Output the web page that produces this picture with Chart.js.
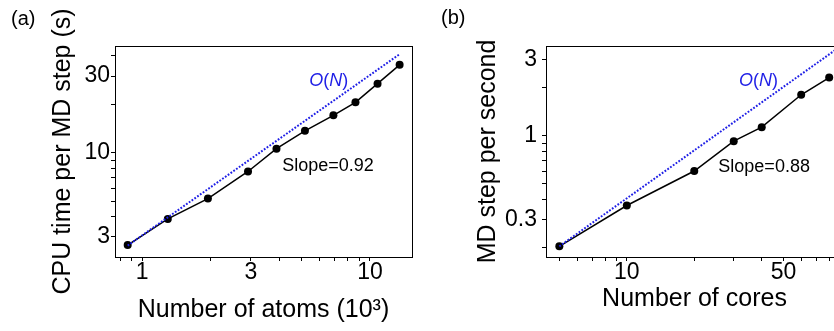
<!DOCTYPE html>
<html>
<head>
<meta charset="utf-8">
<script src="https://cdn.jsdelivr.net/npm/chart.js@4.4.1/dist/chart.umd.min.js"></script>
<style>
  html, body { margin: 0; padding: 0; background: #fff; overflow: hidden; width: 834px; height: 331px; }
  .panel { position: absolute; top: 0; height: 331px; }
  .tag { position: absolute; font: 20px "Liberation Sans", Arial, sans-serif; color: #000; }
</style>
</head>
<body>
<div class="panel" style="left:0;width:417px"><canvas id="chartA" width="417" height="331"></canvas></div>
<div class="panel" style="left:417px;width:430px"><canvas id="chartB" width="430" height="331"></canvas></div>
<div class="tag" style="left:11px;top:7px">(a)</div>
<div class="tag" style="left:441px;top:6px">(b)</div>
<script>
// (a) CPU time vs system size
const atoms = [0.864, 1.296, 1.944, 2.916, 3.888, 5.184, 6.912, 8.64, 10.8, 13.5]; // 10^3 atoms
const cpuTime = [2.67, 3.88, 5.19, 7.65, 10.6, 13.7, 17.1, 20.6, 26.9, 35.2];     // s per MD step
const idealAtomsX = [0.864, 13.5];
const idealAtomsY = [2.65, 41.0];

// (b) throughput vs number of cores
const cores = [5, 10, 20, 30, 40, 60, 80];
const stepsPerSec = [0.203, 0.366, 0.602, 0.926, 1.134, 1.81, 2.32];
const idealCoresX = [5, 92];
const idealCoresY = [0.203, 3.73];

// tick marks and the few that carry a label
const ticksAtomsX = [0.8, 0.9, 1, 2, 3, 4, 5, 6, 7, 8, 9, 10];
const labelsAtomsX = [1, 3, 10];
const ticksTimeY = [3, 4, 5, 6, 7, 8, 9, 10, 20, 30, 40];
const labelsTimeY = [3, 10, 30];
const ticksCoresX = [5, 6, 7, 8, 9, 10, 20, 30, 40, 50, 60, 70, 80];
const labelsCoresX = [10, 50];
const ticksStepsY = [0.2, 0.3, 0.4, 0.5, 0.6, 0.7, 0.8, 0.9, 1, 2, 3];
const labelsStepsY = [0.3, 1, 3];

const FONT = '"Liberation Sans", Arial, sans-serif';
const BLUE = '#1f1fe6';

const toXY = (xs, ys) => xs.map((x, i) => ({ x: x, y: ys[i] }));

// box around the plot area (top and right sides)
const frame = {
  id: 'frame',
  afterDraw(chart) {
    const { ctx, chartArea: a } = chart;
    ctx.save();
    ctx.strokeStyle = '#000';
    ctx.lineWidth = 1;
    ctx.strokeRect(a.left + 0.5, a.top + 0.5, a.right - a.left, a.bottom - a.top);
    ctx.restore();
  }
};

// text notes placed at data coordinates
const notes = {
  id: 'notes',
  afterDatasetsDraw(chart, args, opts) {
    const ctx = chart.ctx;
    const sx = chart.scales.x, sy = chart.scales.y;
    ctx.save();
    ctx.textBaseline = 'middle';
    opts.items.forEach(n => {
      const px = sx.getPixelForValue(n.x);
      const py = sy.getPixelForValue(n.y);
      // measure total width first, then draw parts left to right
      let w = 0;
      n.parts.forEach(p => { ctx.font = (p.italic ? 'italic ' : '') + n.size + 'px ' + FONT; w += ctx.measureText(p.t).width; });
      let cx = px - w / 2;
      ctx.textAlign = 'left';
      ctx.fillStyle = n.color;
      n.parts.forEach(p => {
        ctx.font = (p.italic ? 'italic ' : '') + n.size + 'px ' + FONT;
        ctx.fillText(p.t, cx, py);
        cx += ctx.measureText(p.t).width;
      });
    });
    ctx.restore();
  }
};

function axis(min, max, ticks, labels, tickPad, size, title, titlePad, isY) {
  return {
    type: 'logarithmic',
    min: min,
    max: max,
    afterBuildTicks: s => { s.ticks = ticks.map(v => ({ value: v })); },
    afterFit: s => { if (isY) s.width = size; else s.height = size; },
    grid: { display: true, drawOnChartArea: false, drawTicks: true, tickLength: 4, color: '#000', lineWidth: 1 },
    border: { display: true, color: '#000', width: 1 },
    ticks: {
      autoSkip: false,
      maxRotation: 0,
      padding: tickPad,
      color: '#000',
      font: { family: FONT, size: 23, lineHeight: 1 },
      callback: v => labels.includes(v) ? String(v) : ''
    },
    title: {
      display: true,
      text: title,
      color: '#000',
      font: { family: FONT, size: 25, lineHeight: 1.2 },
      padding: titlePad
    }
  };
}

function makeChart(id, pts, ideal, xAxis, yAxis, layoutPad, noteItems) {
  return new Chart(document.getElementById(id), {
    type: 'line',
    data: {
      datasets: [
        {
          data: ideal,
          borderColor: BLUE,
          borderWidth: 2,
          borderDash: [1.8, 1.6],
          pointRadius: 0,
          fill: false
        },
        {
          data: pts,
          borderColor: '#000',
          borderWidth: 1.5,
          pointRadius: 4,
          pointBackgroundColor: '#000',
          pointBorderWidth: 0,
          fill: false
        }
      ]
    },
    options: {
      responsive: false,
      animation: false,
      layout: { padding: layoutPad },
      plugins: {
        legend: { display: false },
        tooltip: { enabled: false },
        notes: { items: noteItems }
      },
      scales: { x: xAxis, y: yAxis }
    },
    plugins: [frame, notes]
  });
}

makeChart('chartA',
  toXY(atoms, cpuTime),
  toXY(idealAtomsX, idealAtomsY),
  axis(0.76, 15.3, ticksAtomsX, labelsAtomsX, 0, 74, 'Number of atoms (10\u00b3)', { top: 0, bottom: 6 }, false),
  axis(2.25, 46.1, ticksTimeY, labelsTimeY, 1, 115, 'CPU time per MD step (s)', { top: 48, bottom: 0 }, true),
  { left: 0, top: 46, right: 5, bottom: 0 },
  [
    { x: 6.6, y: 27.8, size: 18, color: BLUE, parts: [{ t: 'O', italic: true }, { t: '(' }, { t: 'N', italic: true }, { t: ')' }] },
    { x: 6.55, y: 8.22, size: 18, color: '#000', parts: [{ t: 'Slope=0.92' }] }
  ]
);

makeChart('chartB',
  toXY(cores, stepsPerSec),
  toXY(idealCoresX, idealCoresY),
  axis(4.36, 92.2, ticksCoresX, labelsCoresX, 0, 74, 'Number of cores', { top: 0, bottom: 17 }, false),
  axis(0.174, 3.66, ticksStepsY, labelsStepsY, 5, 129, 'MD step per second', { top: 56, bottom: 0 }, true),
  { left: 0, top: 46, right: 3, bottom: 0 },
  [
    { x: 38.7, y: 2.2, size: 18, color: BLUE, parts: [{ t: 'O', italic: true }, { t: '(' }, { t: 'N', italic: true }, { t: ')' }] },
    { x: 41.0, y: 0.641, size: 18, color: '#000', parts: [{ t: 'Slope=0.88' }] }
  ]
);
</script>
</body>
</html>
